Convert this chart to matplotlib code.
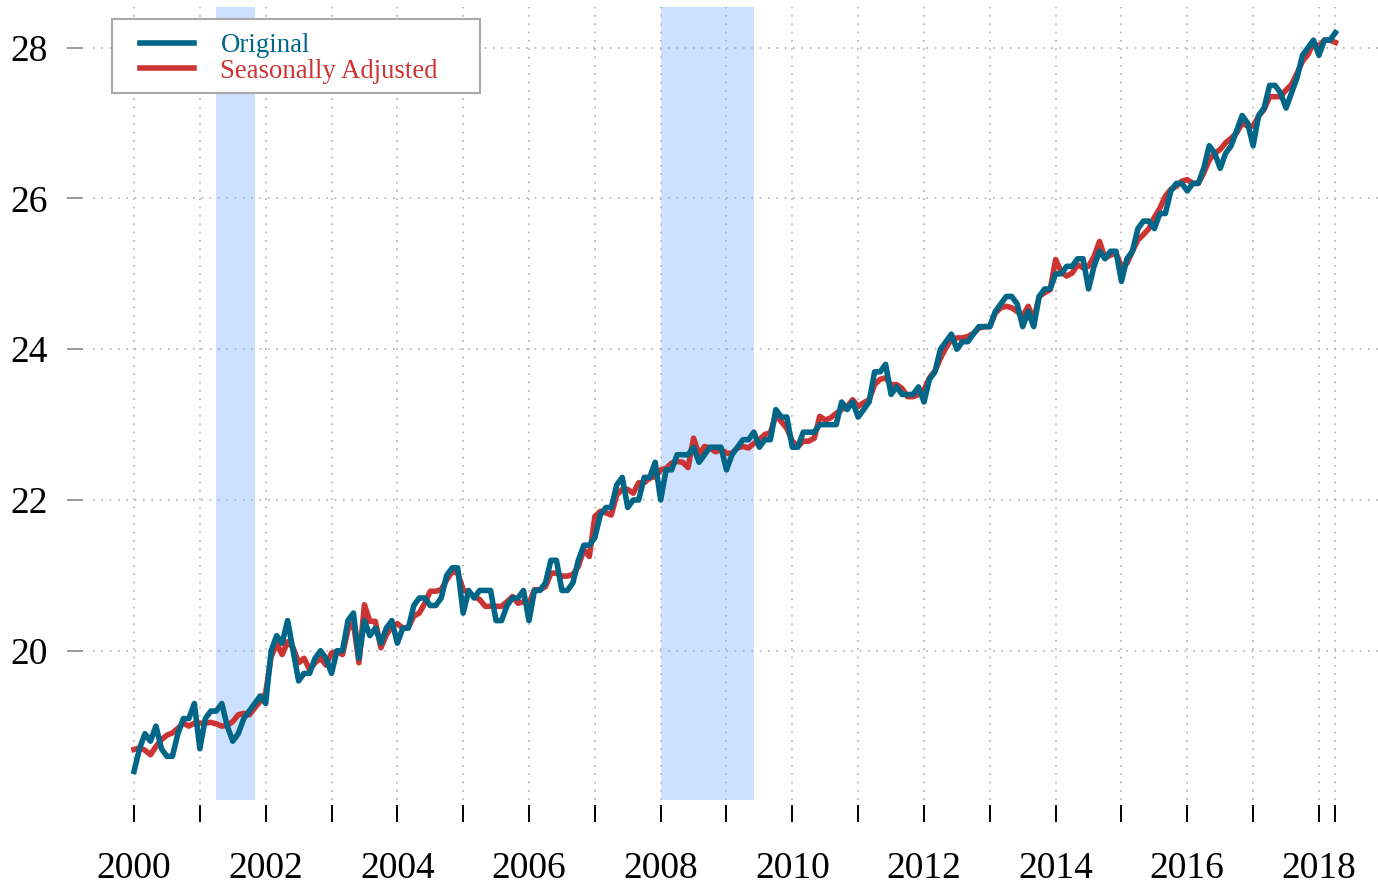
import numpy as np
import matplotlib
matplotlib.use("Agg")
import matplotlib.pyplot as plt
from matplotlib.patches import Rectangle

plt.rcParams['font.family'] = ['Liberation Serif', 'DejaVu Serif']

# monthly values, Jan 2000 .. Apr 2018 (one row per year)
original = [
    18.4, 18.7, 18.9, 18.8, 19.0, 18.7, 18.6, 18.6, 18.9, 19.1, 19.1, 19.3,
    18.7, 19.1, 19.2, 19.2, 19.3, 19.0, 18.8, 18.9, 19.1, 19.2, 19.3, 19.4,
    19.3, 20.0, 20.2, 20.1, 20.4, 20.0, 19.6, 19.7, 19.7, 19.9, 20.0, 19.9,
    19.7, 20.0, 20.0, 20.4, 20.5, 19.9, 20.4, 20.2, 20.3, 20.1, 20.3, 20.4,
    20.1, 20.3, 20.3, 20.6, 20.7, 20.7, 20.6, 20.6, 20.7, 21.0, 21.1, 21.1,
    20.5, 20.8, 20.7, 20.8, 20.8, 20.8, 20.4, 20.4, 20.6, 20.7, 20.7, 20.8,
    20.4, 20.8, 20.8, 20.9, 21.2, 21.2, 20.8, 20.8, 20.9, 21.2, 21.4, 21.4,
    21.5, 21.8, 21.9, 21.9, 22.2, 22.3, 21.9, 22.0, 22.0, 22.3, 22.3, 22.5,
    22.0, 22.4, 22.4, 22.6, 22.6, 22.6, 22.7, 22.5, 22.6, 22.7, 22.7, 22.7,
    22.4, 22.6, 22.7, 22.8, 22.8, 22.9, 22.7, 22.8, 22.8, 23.2, 23.1, 23.1,
    22.7, 22.7, 22.9, 22.9, 22.9, 23.0, 23.0, 23.0, 23.0, 23.3, 23.2, 23.3,
    23.1, 23.2, 23.3, 23.7, 23.7, 23.8, 23.4, 23.5, 23.4, 23.4, 23.4, 23.5,
    23.3, 23.6, 23.7, 24.0, 24.1, 24.2, 24.0, 24.1, 24.1, 24.2, 24.3, 24.3,
    24.3, 24.5, 24.6, 24.7, 24.7, 24.6, 24.3, 24.5, 24.3, 24.7, 24.8, 24.8,
    25.0, 25.0, 25.1, 25.1, 25.2, 25.2, 24.8, 25.1, 25.3, 25.2, 25.3, 25.3,
    24.9, 25.2, 25.3, 25.6, 25.7, 25.7, 25.6, 25.8, 25.8, 26.1, 26.2, 26.2,
    26.1, 26.2, 26.2, 26.4, 26.7, 26.6, 26.4, 26.6, 26.7, 26.9, 27.1, 27.0,
    26.7, 27.1, 27.2, 27.5, 27.5, 27.4, 27.2, 27.4, 27.6, 27.9, 28.0, 28.1,
    27.9, 28.1, 28.1, 28.2,
]

seas_adj = [
    18.69, 18.71, 18.68, 18.62, 18.73, 18.82, 18.88, 18.91, 18.97, 19.04, 19.00, 19.04,
    19.04, 19.04, 19.05, 19.03, 19.00, 19.01, 19.06, 19.15, 19.17, 19.15, 19.24, 19.33,
    19.44, 19.92, 20.10, 19.95, 20.12, 20.04, 19.84, 19.90, 19.75, 19.84, 19.90, 19.81,
    19.97, 19.99, 19.95, 20.28, 20.37, 19.84, 20.61, 20.39, 20.39, 20.04, 20.21, 20.32,
    20.36, 20.30, 20.31, 20.46, 20.50, 20.63, 20.79, 20.79, 20.81, 20.94, 21.05, 21.03,
    20.81, 20.77, 20.72, 20.68, 20.59, 20.59, 20.59, 20.59, 20.65, 20.72, 20.63, 20.65,
    20.63, 20.81, 20.81, 20.85, 21.03, 21.03, 20.99, 20.99, 21.01, 21.12, 21.34, 21.25,
    21.78, 21.85, 21.83, 21.80, 22.07, 22.14, 22.14, 22.09, 22.23, 22.23, 22.29, 22.31,
    22.40, 22.42, 22.49, 22.51, 22.50, 22.43, 22.82, 22.60, 22.71, 22.69, 22.64, 22.67,
    22.62, 22.62, 22.69, 22.71, 22.69, 22.75, 22.80, 22.87, 22.89, 23.13, 23.04, 22.95,
    22.78, 22.71, 22.78, 22.78, 22.82, 23.11, 23.06, 23.09, 23.15, 23.20, 23.24, 23.33,
    23.24, 23.29, 23.33, 23.53, 23.60, 23.62, 23.53, 23.53, 23.48, 23.37, 23.37, 23.40,
    23.46, 23.62, 23.71, 23.88, 24.02, 24.13, 24.15, 24.15, 24.17, 24.21, 24.28, 24.30,
    24.30, 24.48, 24.55, 24.57, 24.55, 24.50, 24.44, 24.57, 24.39, 24.70, 24.75, 24.79,
    25.19, 25.03, 24.97, 25.01, 25.12, 25.08, 25.10, 25.23, 25.43, 25.21, 25.25, 25.27,
    25.10, 25.14, 25.30, 25.45, 25.52, 25.60, 25.75, 25.87, 26.03, 26.12, 26.16, 26.23,
    26.25, 26.20, 26.20, 26.34, 26.51, 26.60, 26.65, 26.74, 26.80, 26.87, 27.00, 26.96,
    26.96, 27.09, 27.18, 27.35, 27.35, 27.35, 27.44, 27.51, 27.66, 27.82, 27.91, 28.06,
    28.02, 28.10, 28.10, 28.07,
]

start_year = 2000
# recessions as (year, month) first and last shaded month
recessions = [((2001, 4), (2001, 11)), ((2008, 1), (2009, 6))]
series_labels = ["Original", "Seasonally Adjusted"]
blue = "#006688"
red = "#cc3333"
shade = "#cce0ff"

t = start_year + np.arange(len(original)) / 12.0

W, H = 1378, 885
fig = plt.figure(figsize=(W / 100, H / 100), dpi=100)
ax = fig.add_axes([93 / W, 85 / H, (W - 93) / W, 793 / H])

for (y0, m0), (y1, m1) in recessions:
    ax.axvspan(y0 + (m0 - 1) / 12, y1 + (m1 - 1) / 12, color=shade, lw=0, zorder=1)

lr, = ax.plot(t, seas_adj, color=red, lw=4.0, zorder=2, solid_joinstyle='round')
lb, = ax.plot(t, original, color=blue, lw=4.0, zorder=3, solid_joinstyle='round')

ax.set_xlim(1999.377, 2018.897)
ax.set_ylim(18.02, 28.54)

years = list(range(2000, 2019))
xt = years + [t[-1]]
xl = [str(y) if y % 2 == 0 else "" for y in years] + [""]
ax.set_xticks(xt)
ax.set_xticklabels(xl)
ax.set_yticks([20, 22, 24, 26, 28])

for s in ax.spines.values():
    s.set_color("none")
ax.spines['bottom'].set_position(('outward', 3.6))
ax.spines['left'].set_position(('outward', 7.2))

ax.tick_params(axis='x', direction='out', length=12.5, width=1.4, color='black',
               labelsize=27, pad=21)
ax.tick_params(axis='y', direction='out', length=11.5, width=1.4, color='#9a9a9a',
               labelsize=27, pad=14, labelcolor='black')

ax.grid(True, color='#b0b0b0', lw=1.2, linestyle=(0, (1, 4)))

# legend box
ax.add_patch(Rectangle((112 / W, 1 - 93 / H), 368 / W, 74 / H, transform=fig.transFigure,
                       facecolor='white', edgecolor='#aaaaaa', lw=1.5, zorder=4,
                       clip_on=False))
ax.legend([lb, lr], series_labels, loc='upper left',
          bbox_to_anchor=(140 / W, 1 - 33 / H), bbox_transform=fig.transFigure,
          frameon=False, borderpad=0, borderaxespad=0, handlelength=2.0,
          handletextpad=1.0, labelspacing=0.03, fontsize=19.3, labelcolor='linecolor')

fig.savefig("out.png", dpi=100)
